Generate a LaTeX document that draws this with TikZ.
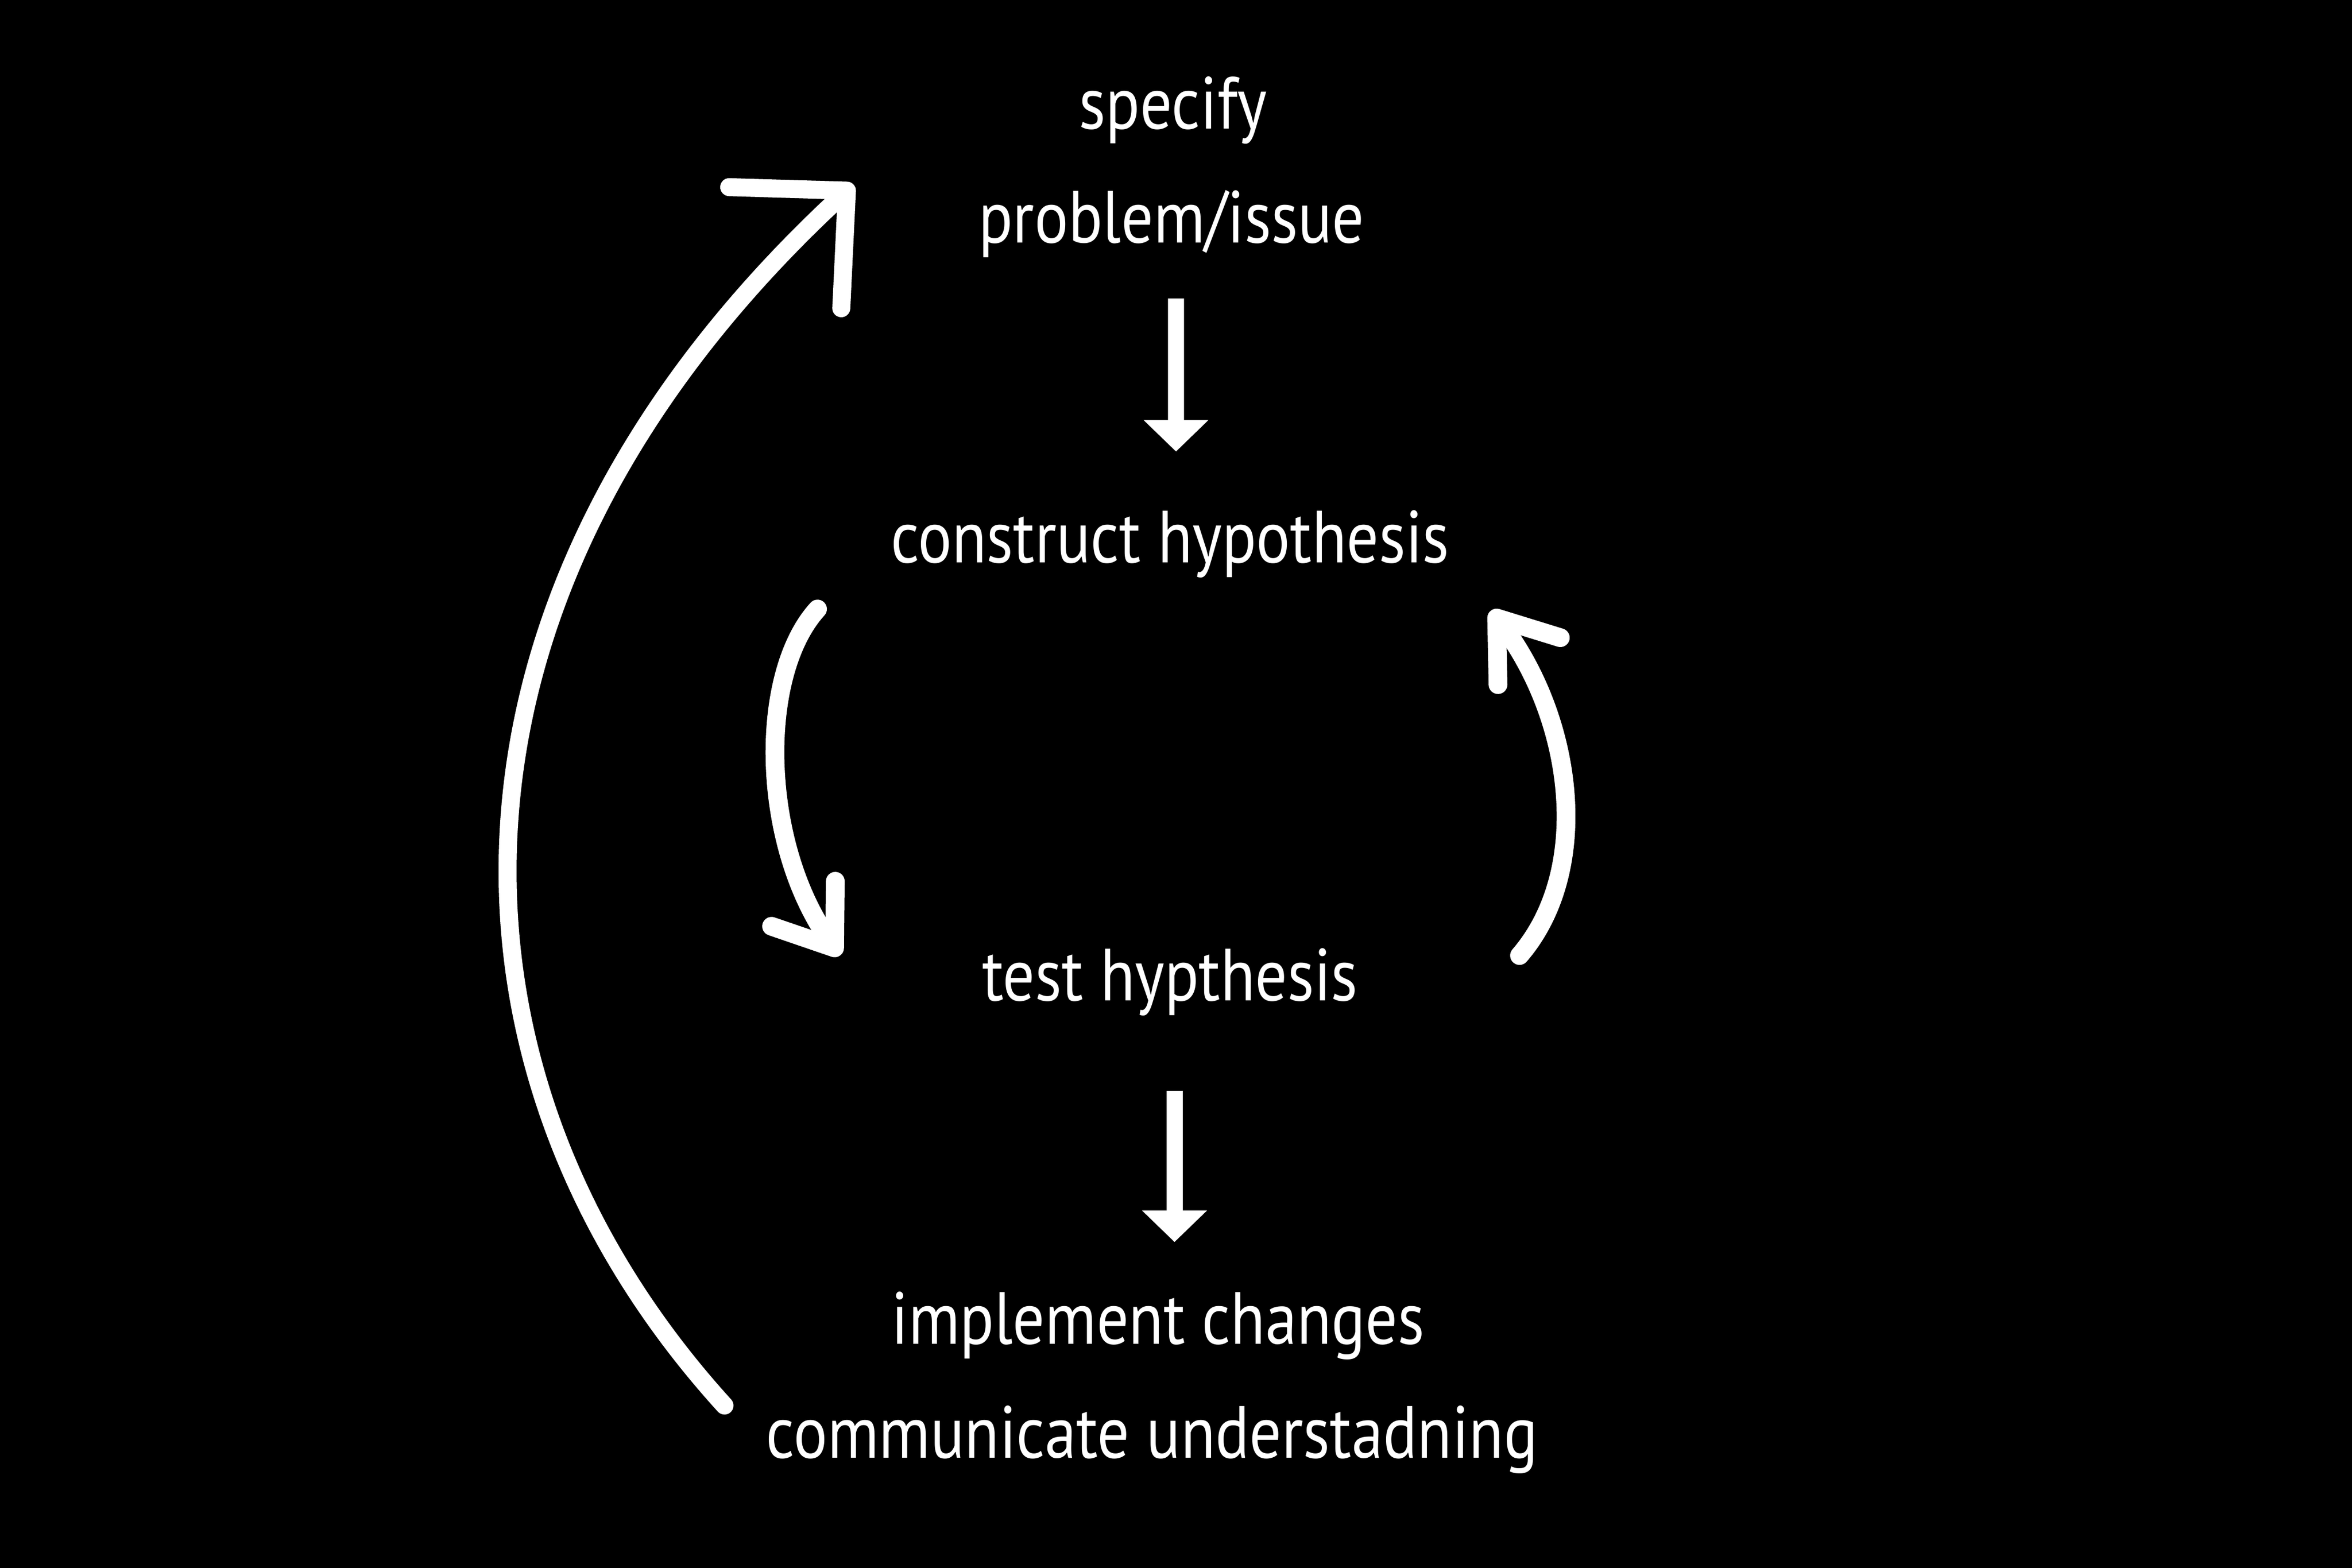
\documentclass[tikz,border=0pt]{standalone}
\usepackage{fontspec}
\setmainfont{PT Sans}[FakeStretch=0.86]
\usetikzlibrary{arrows.meta}

\begin{document}
\begin{tikzpicture}[
  stage/.style={text=white, inner sep=0pt, anchor=base, font=\fontsize{14pt}{16pt}\selectfont},
  flow/.style={white, line width=1.07mm, -{Triangle[width=4.2mm, length=2.1mm]}},
  swing/.style={white, line width=1.25mm, line cap=round, -{Straight Barb[round, length=3.6mm, width=5.2mm]}},
  back/.style={white, line width=1.2mm, line cap=round, -{Straight Barb[round, length=5.6mm, width=11mm]}}
]
\fill[black] (0,0) rectangle (15.68,-10.453);
\useasboundingbox (0,0) rectangle (15.68,-10.453);

\node[stage] (spec) at (7.82,-0.86) {specify};
\node[stage] (prob) at (7.81,-1.62) {problem/issue};
\node[stage] (hyp)  at (7.80,-3.75) {construct hypothesis};
\node[stage] (test) at (7.80,-6.67) {test hypthesis};
\node[stage] (impl) at (7.72,-8.96) {implement changes};
\node[stage] (comm) at (7.68,-9.72) {communicate understadning};

\draw[flow] ([shift={(0.03,-0.37)}]prob.base) -- ([shift={(0.04,0.74)}]hyp.base);
\draw[flow] ([shift={(0.03,-0.60)}]test.base) -- ([shift={(0.11,0.68)}]impl.base);

\draw[swing] ([shift={(-2.35,-0.31)}]hyp.base) .. controls +(-0.40,-0.44) and +(-0.53,0.75) .. ([shift={(-2.20,0.30)}]test.base);
\draw[swing] ([shift={(2.33,0.30)}]test.base) .. controls +(0.49,0.57) and +(0.55,-0.73) .. ([shift={(2.14,-0.32)}]hyp.base);

\draw[back] ([shift={(-2.85,0.35)}]comm.base) .. controls +(-2.00,2.20) and +(-2.95,-2.73) .. ([shift={(-2.12,0.39)}]prob.base);

\end{tikzpicture}
\end{document}
